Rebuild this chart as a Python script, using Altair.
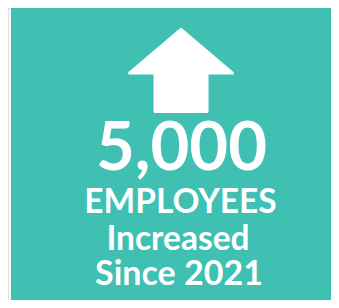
import altair as alt
import pandas as pd

# Values
headline_value = [5000]
label_lines = ["EMPLOYEES", "Increased", "Since 2021"]

TEAL = "#3FC0B3"
FONT = "Lato"

base = alt.Chart(pd.DataFrame({"v": headline_value}))

bg = base.mark_rect(color=TEAL).encode(
    x=alt.value(3), x2=alt.value(323), y=alt.value(0), y2=alt.value(292)
)

arrow_path = ("M0,-0.796 L1,0.049 L0.505,0.049 L0.505,0.796 "
              "L-0.505,0.796 L-0.505,0.049 L-1,0.049 Z")
arrow = base.mark_point(
    shape=arrow_path, filled=True, fill="white", stroke="white",
    strokeWidth=3, strokeJoin="round", opacity=1, size=10609
).encode(x=alt.value(173), y=alt.value(62.5))

headline = base.mark_text(
    font=FONT, fontSize=67, fontWeight="bold", color="white",
    align="center", baseline="alphabetic"
).encode(
    x=alt.value(173.5), y=alt.value(162),
    text=alt.Text("v:Q", format=",")
)

layers = [bg, arrow, headline]
specs = [(172.5, 205, 33.5, "bold"), (170, 242, 33.5, "bold"), (171, 277, 34, "bold")]
for line, (xx, yy, fs, fw) in zip(label_lines, specs):
    layers.append(
        base.mark_text(
            text=line, font=FONT, fontSize=fs, fontWeight=fw, color="white",
            align="center", baseline="alphabetic"
        ).encode(x=alt.value(xx), y=alt.value(yy))
    )

chart = alt.layer(*layers).properties(
    width=323, height=292, padding=0, autosize=alt.AutoSizeParams(type="none")
).configure_view(stroke=None).configure(background="white")

chart.save("out.html", embed_options={"renderer": "svg", "actions": False})
